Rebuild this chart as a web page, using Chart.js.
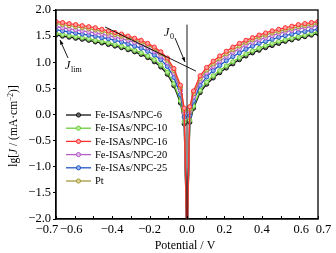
<!DOCTYPE html>
<html>
<head>
<meta charset="utf-8">
<script src="https://cdn.jsdelivr.net/npm/chart.js@4/dist/chart.umd.min.js"></script>
<style>
  html,body{margin:0;padding:0;background:#fff;}
  #wrap{width:336px;height:253px;position:relative;}
</style>
</head>
<body>
<div id="wrap"><canvas id="tafel"></canvas></div>
<script>
// potential (V)
var potential = [-0.700,-0.665,-0.630,-0.595,-0.560,-0.525,-0.490,-0.455,-0.420,-0.385,-0.350,-0.315,-0.280,-0.245,-0.210,-0.175,-0.140,-0.105,-0.070,-0.035,-0.015,
  0,
  0.015,0.035,0.070,0.105,0.140,0.175,0.210,0.245,0.280,0.315,0.350,0.385,0.420,0.455,0.490,0.525,0.560,0.595,0.630,0.665,0.700];

// lg J for each sample
var npc6  = [1.52,1.50,1.48,1.46,1.44,1.42,1.39,1.37,1.34,1.31,1.28,1.24,1.20,1.15,1.09,1.01,0.91,0.77,0.55,0.22,-0.18,
  -2.5,
  -0.15,0.12,0.42,0.58,0.70,0.80,0.89,0.97,1.05,1.12,1.18,1.23,1.28,1.32,1.36,1.40,1.43,1.46,1.49,1.52,1.55];
var npc10 = [1.55,1.53,1.51,1.49,1.47,1.45,1.42,1.40,1.37,1.34,1.31,1.27,1.23,1.18,1.12,1.05,0.95,0.81,0.59,0.26,-0.14,
  -2.5,
  -0.11,0.16,0.46,0.62,0.74,0.84,0.93,1.01,1.09,1.16,1.22,1.27,1.32,1.36,1.40,1.43,1.46,1.49,1.52,1.55,1.58];
var npc16 = [1.78,1.76,1.74,1.72,1.70,1.68,1.66,1.63,1.60,1.57,1.54,1.50,1.46,1.42,1.36,1.29,1.20,1.08,0.88,0.56,0.12,
  -2.5,
  0.15,0.45,0.74,0.90,1.02,1.12,1.21,1.29,1.36,1.42,1.47,1.52,1.56,1.60,1.63,1.66,1.69,1.72,1.74,1.76,1.78];
var npc20 = [1.68,1.66,1.64,1.62,1.60,1.58,1.56,1.54,1.51,1.48,1.45,1.42,1.38,1.34,1.28,1.21,1.12,0.99,0.79,0.46,0.03,
  -2.5,
  0.06,0.34,0.64,0.80,0.92,1.02,1.11,1.19,1.26,1.33,1.38,1.43,1.47,1.51,1.55,1.58,1.61,1.64,1.66,1.68,1.70];
var npc25 = [1.62,1.60,1.58,1.56,1.54,1.52,1.50,1.47,1.45,1.42,1.39,1.35,1.31,1.27,1.21,1.14,1.05,0.92,0.71,0.38,-0.05,
  -2.5,
  -0.02,0.26,0.56,0.72,0.84,0.94,1.03,1.11,1.18,1.25,1.31,1.36,1.40,1.44,1.48,1.51,1.54,1.57,1.59,1.61,1.63];
var pt    = [1.74,1.72,1.70,1.68,1.66,1.64,1.62,1.59,1.56,1.53,1.50,1.47,1.43,1.38,1.33,1.26,1.17,1.04,0.84,0.52,0.08,
  -2.5,
  0.10,0.40,0.69,0.85,0.97,1.07,1.16,1.24,1.31,1.38,1.43,1.48,1.52,1.56,1.59,1.62,1.65,1.68,1.70,1.72,1.74];

var seriesNames = ['Fe-ISAs/NPC-6','Fe-ISAs/NPC-10','Fe-ISAs/NPC-16','Fe-ISAs/NPC-20','Fe-ISAs/NPC-25','Pt'];
var seriesData = [npc6, npc10, npc16, npc20, npc25, pt];
var lineColors = ['#111111','#6ccc3a','#ff2f2f','#b45ec8','#2455c4','#a39a3e'];
var fillColors = ['#666666','#b8ec98','#ffa0a0','#e2b4ee','#8fb0f0','#dcd48e'];

var xTickLabels = [-0.7,-0.6,-0.4,-0.2,0.0,0.2,0.4,0.6,0.7];
var xLabelNudge = [-9,-3.5,0,0,0,0,0,2,5.5];   // px, keeps the end labels apart
var yTicks = [-2.0,-1.5,-1.0,-0.5,0.0,0.5,1.0,1.5,2.0];

// tangent line and J0 marker (data units)
var tangentLine = [[-0.438,1.675],[0.048,0.83]];
var j0Line = [[0,1.72],[0,-2]];

var serif = "'Liberation Serif','Times New Roman',serif";

function fmt(v){ var s=Math.abs(v).toFixed(1); return v<0 ? '\u2212'+s : s; }

function toPoints(arr){
  return potential.map(function(v,i){ return {x:v, y:arr[i]}; });
}

var datasets = [];
// draw order: red on top
var drawOrder = [0,1,4,3,5,2];
for (var k=0;k<seriesData.length;k++){
  datasets.push({
    label: seriesNames[k],
    data: toPoints(seriesData[k]),
    borderColor: lineColors[k],
    backgroundColor: fillColors[k],
    pointBackgroundColor: fillColors[k],
    pointBorderColor: lineColors[k],
    pointBorderWidth: 1,
    pointRadius: 2.1,
    borderWidth: 1.3,
    tension: 0,
    order: 6 - drawOrder.indexOf(k)
  });
}

var extras = {
  id:'extras',
  afterDatasetsDraw:function(chart){
    var c = chart.ctx, xs = chart.scales.x, ys = chart.scales.y, a = chart.chartArea;
    c.save();
    c.strokeStyle = '#000';
    c.lineWidth = 0.9;
    c.beginPath();
    c.moveTo(xs.getPixelForValue(tangentLine[0][0]), ys.getPixelForValue(tangentLine[0][1]));
    c.lineTo(xs.getPixelForValue(tangentLine[1][0]), ys.getPixelForValue(tangentLine[1][1]));
    c.moveTo(xs.getPixelForValue(j0Line[0][0]), ys.getPixelForValue(j0Line[0][1]));
    c.lineTo(xs.getPixelForValue(j0Line[1][0]), ys.getPixelForValue(j0Line[1][1]));
    c.stroke();

    // arrows
    function arrow(x1,y1,x2,y2){
      c.beginPath(); c.moveTo(x1,y1); c.lineTo(x2,y2); c.stroke();
      var ang = Math.atan2(y2-y1,x2-x1), L=5;
      c.beginPath();
      c.moveTo(x2,y2);
      c.lineTo(x2-L*Math.cos(ang-0.35), y2-L*Math.sin(ang-0.35));
      c.lineTo(x2-L*Math.cos(ang+0.35), y2-L*Math.sin(ang+0.35));
      c.closePath(); c.fillStyle='#000'; c.fill();
    }
    arrow(175,38,185,62);
    arrow(68,58,60,40);

    // labels J0, Jlim
    c.fillStyle='#000';
    c.textBaseline='alphabetic';
    c.font = 'italic 12px ' + serif;
    c.fillText('J', 164, 36);
    c.font = '8px ' + serif;
    c.fillText('0', 170, 39);
    c.font = 'italic 12px ' + serif;
    c.fillText('J', 65, 69);
    c.font = '8px ' + serif;
    c.fillText('lim', 71, 72);

    // frame
    c.lineWidth = 1.3;
    c.strokeRect(a.left, a.top, a.right-a.left, a.bottom-a.top);

    // inward x ticks every 0.1
    c.lineWidth = 1;
    c.beginPath();
    for (var t=-7;t<=7;t++){
      var px = Math.round(xs.getPixelForValue(t/10))+0.5;
      c.moveTo(px, a.bottom); c.lineTo(px, a.bottom-3);
    }
    c.stroke();

    // x tick labels
    c.font = '12.5px ' + serif;
    c.textAlign = 'center';
    c.textBaseline = 'middle';
    for (var j=0;j<xTickLabels.length;j++){
      c.fillText(fmt(xTickLabels[j]), xs.getPixelForValue(xTickLabels[j]) + xLabelNudge[j], a.bottom + 11);
    }

    // legend
    var ly = 115, step = 13.2;
    c.font = '10.5px ' + serif;
    c.textAlign = 'left';
    for (var i=0;i<seriesNames.length;i++){
      var y = ly + i*step;
      c.strokeStyle = lineColors[i]; c.lineWidth = 1.3;
      c.beginPath(); c.moveTo(66,y); c.lineTo(91,y); c.stroke();
      c.beginPath(); c.arc(78.5,y,2.1,0,Math.PI*2);
      c.fillStyle = fillColors[i]; c.fill();
      c.lineWidth = 1; c.stroke();
      c.fillStyle = '#000';
      c.fillText(seriesNames[i], 95, y+0.5);
    }

    // axis titles
    c.textBaseline = 'alphabetic';
    c.font = '12px ' + serif;
    c.textAlign = 'center';
    c.fillText('Potential / V', 185, 249);

    c.save();
    c.translate(17, 126);
    c.rotate(-Math.PI/2);
    var parts = [['lg[', '11.5px '+serif, 0],['J','italic 11.5px '+serif,0],[' / ','11.5px '+serif,0],['(mA\u00b7cm','11.5px '+serif,0],['\u22122','7.5px '+serif,-4],[')]','11.5px '+serif,0]];
    var total = 0;
    parts.forEach(function(p){ c.font=p[1]; total += c.measureText(p[0]).width; });
    var x0 = -total/2;
    c.textAlign = 'left';
    parts.forEach(function(p){ c.font=p[1]; c.fillText(p[0], x0, p[2]); x0 += c.measureText(p[0]).width; });
    c.restore();
    c.restore();
  }
};

new Chart(document.getElementById('tafel'), {
  type:'line',
  data:{ datasets: datasets },
  options:{
    responsive:true,
    maintainAspectRatio:false,
    animation:false,
    layout:{ padding:{ top:10, right:18, left:0, bottom:0 } },
    plugins:{ legend:{display:false}, tooltip:{enabled:false} },
    scales:{
      x:{
        type:'linear', min:-0.7, max:0.7,
        afterFit:function(s){ s.height = 34; },
        grid:{ display:false },
        border:{ color:'#000', width:1.3 },
        ticks:{ display:false }
      },
      y:{
        min:-2, max:2,
        afterBuildTicks:function(s){ s.ticks = yTicks.map(function(v){ return {value:v}; }); },
        afterFit:function(s){ s.width = 56; },
        grid:{ drawOnChartArea:false, color:'#000', tickLength:3, tickWidth:1 },
        border:{ color:'#000', width:1.3 },
        ticks:{
          color:'#000', font:{ family:serif, size:12.5 }, padding:2,
          callback:function(v){ return fmt(v); }
        }
      }
    }
  },
  plugins:[extras]
});
</script>
</body>
</html>
